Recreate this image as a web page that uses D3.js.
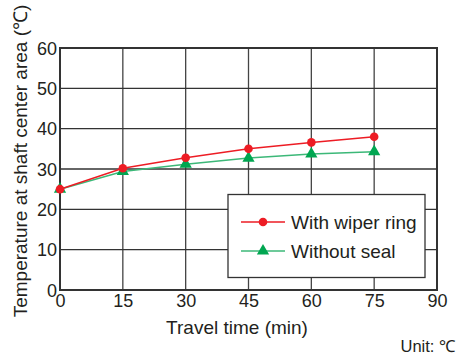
<!DOCTYPE html>
<html><head><meta charset="utf-8">
<script src="https://cdn.jsdelivr.net/npm/d3@7"></script>
<style>body{margin:0;background:#fff}text{font-family:"Liberation Sans",Arial,sans-serif;fill:#231f20}</style>
</head><body>
<svg id="c" width="458" height="355"></svg>
<script>
const times = [0, 15, 30, 45, 60, 75];
const wiperRing = [25, 30.2, 32.8, 35.0, 36.6, 38.0];
const withoutSeal = [25, 29.4, 31.2, 32.7, 33.7, 34.3];
const xTicks = [0, 15, 30, 45, 60, 75, 90];
const yTicks = [0, 10, 20, 30, 40, 50, 60];
const seriesNames = ["With wiper ring", "Without seal"];

const svg = d3.select("#c");
const L = 60, R = 437, T = 48, B = 290;
const x = d3.scaleLinear().domain([0, 90]).range([L, R]);
const y = d3.scaleLinear().domain([0, 60]).range([B, T]);

// grid
svg.append("g").selectAll("line").data(xTicks.slice(1, -1)).join("line")
  .attr("x1", d => x(d)).attr("x2", d => x(d)).attr("y1", T).attr("y2", B)
  .attr("stroke", "#444").attr("stroke-width", 1.3);
svg.append("g").selectAll("line").data(yTicks.slice(1, -1)).join("line")
  .attr("y1", d => y(d)).attr("y2", d => y(d)).attr("x1", L).attr("x2", R)
  .attr("stroke", "#333").attr("stroke-width", 1.3);
svg.append("rect").attr("x", L).attr("y", T).attr("width", R - L).attr("height", B - T)
  .attr("fill", "none").attr("stroke", "#333").attr("stroke-width", 2);

// axes
const xa = svg.append("g").attr("transform", `translate(0,${B})`)
  .call(d3.axisBottom(x).tickValues(xTicks).tickSize(0).tickPadding(3));
xa.select(".domain").remove();
xa.selectAll("text").attr("font-size", 18).attr("dy", "0.8em");
const ya = svg.append("g").attr("transform", `translate(${L},0)`)
  .call(d3.axisLeft(y).tickValues(yTicks).tickSize(0).tickPadding(3));
ya.select(".domain").remove();
ya.selectAll("text").attr("font-size", 18).attr("dy", "0.35em");

svg.append("text").attr("x", 237).attr("y", 334).attr("text-anchor", "middle")
  .attr("font-size", 19).text("Travel time (min)");
svg.append("text").attr("transform", `translate(27,161) rotate(-90)`)
  .attr("text-anchor", "middle").attr("font-size", 19).text("Temperature at shaft center area (℃)");
svg.append("text").attr("x", 455).attr("y", 352).attr("text-anchor", "end")
  .attr("font-size", 16.5).text("Unit: ℃");

const line = d3.line().x((d, i) => x(times[i])).y(d => y(d));
const red = "#ed1c24", green = "#00a651", greenLine = "#3cb878";
svg.append("path").datum(withoutSeal).attr("d", line).attr("fill", "none").attr("stroke", greenLine).attr("stroke-width", 1.5);
svg.append("path").datum(wiperRing).attr("d", line).attr("fill", "none").attr("stroke", red).attr("stroke-width", 1.5);
const tri = d3.symbol().type(d3.symbolTriangle).size(65);
svg.append("g").selectAll("path").data(withoutSeal).join("path")
  .attr("transform", (d, i) => `translate(${x(times[i])},${y(d)})`).attr("d", tri).attr("fill", green);
svg.append("g").selectAll("circle").data(wiperRing).join("circle")
  .attr("cx", (d, i) => x(times[i])).attr("cy", d => y(d)).attr("r", 4.3).attr("fill", red);

// legend
const lg = svg.append("g");
lg.append("rect").attr("x", 228).attr("y", 194.5).attr("width", 197).attr("height", 83)
  .attr("fill", "#fff").attr("stroke", "#333").attr("stroke-width", 1.3);
const ly = [222, 251];
[[red, red, "c"], [greenLine, green, "t"]].forEach((s, i) => {
  lg.append("line").attr("x1", 241).attr("x2", 285).attr("y1", ly[i]).attr("y2", ly[i])
    .attr("stroke", s[0]).attr("stroke-width", 1.5);
  if (s[2] === "c") lg.append("circle").attr("cx", 263).attr("cy", ly[i]).attr("r", 4.3).attr("fill", s[1]);
  else lg.append("path").attr("transform", `translate(263,${ly[i]})`).attr("d", tri).attr("fill", s[1]);
  lg.append("text").attr("x", 291).attr("y", ly[i]).attr("dy", "0.35em").attr("font-size", 19).text(seriesNames[i]);
});
</script>
</body></html>
